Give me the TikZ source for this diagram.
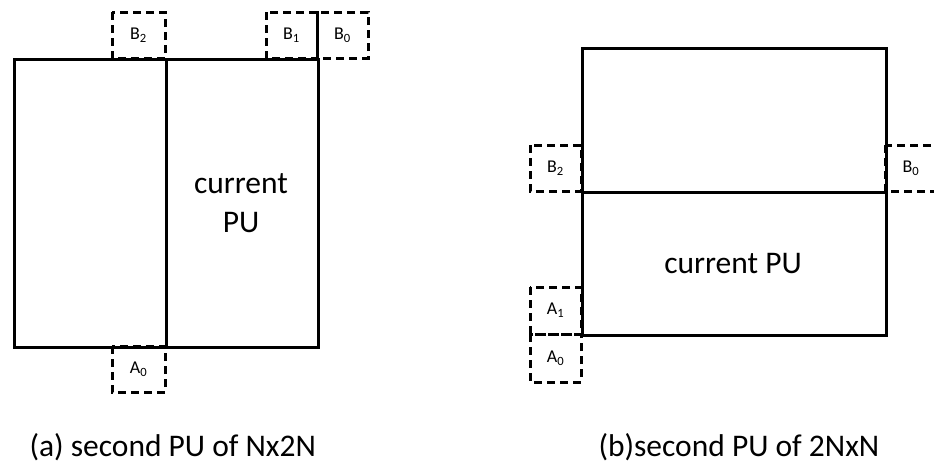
\documentclass[tikz,border=0pt]{standalone}
\usepackage{fontspec}
\setmainfont{Carlito}
\begin{document}
\begin{tikzpicture}[x=1pt,y=-1pt,
  pu/.style={draw,line width=3.2pt,inner sep=0pt},
  nb/.style={draw,line width=3pt,dash pattern=on 8pt off 5pt,inner sep=0pt},
  nbt/.style={font=\fontsize{18}{20}\selectfont,inner sep=0pt,draw=none,solid},
  lbl/.style={font=\fontsize{31.5}{37}\selectfont,anchor=base},
  captxt/.style={font=\fontsize{31.5}{36}\selectfont,anchor=base west}]
\useasboundingbox (0,0) rectangle (934,464);
\clip (0,0) rectangle (934,464);
% (a)
\draw[nb] (112,12) rectangle (165,58) node[midway,nbt] (b2a) {B\textsubscript{2}};
\draw[nb] (266,12) rectangle (317,58) node[midway,nbt] (b1a) {B\textsubscript{1}};
\draw[nb] (317,12) rectangle (368,58) node[midway,nbt] (b0a) {B\textsubscript{0}};
\draw[nb] (112,346) rectangle (165,392) node[midway,nbt] (a0a) {A\textsubscript{0}};
\node[pu,minimum width=152pt,minimum height=288pt,anchor=north west] (la) at (13,58) {};
\node[pu,minimum width=152pt,minimum height=288pt,anchor=north west] (ra) at (165,58) {};
\node[lbl] (cpa1) at (241,193) {current};
\node[lbl] (cpa2) at (241,232) {PU};
% (b)
\draw[nb] (530,145) rectangle (581,191) node[midway,nbt] (b2b) {B\textsubscript{2}};
\draw[nb] (885,145) rectangle (940,191);
\node[nbt] (b0b) at (911,168) {B\textsubscript{0}};
\draw[nb] (530,287) rectangle (581,334) node[midway,nbt] (a1b) {A\textsubscript{1}};
\draw[nb] (530,334) rectangle (581,382) node[midway,nbt] (a0b) {A\textsubscript{0}};
\node[pu,minimum width=304pt,minimum height=144pt,anchor=north west] (tb) at (581,47) {};
\node[pu,minimum width=304pt,minimum height=143pt,anchor=north west] (bb) at (581,191) {};
\node[lbl] (cpb) at (733,273) {current PU};
% captions
\node[captxt] (capa) at (26,456) {(a) second PU of Nx2N};
\node[captxt] (capb) at (595,456) {(b)second PU of 2NxN};
\end{tikzpicture}
\end{document}
